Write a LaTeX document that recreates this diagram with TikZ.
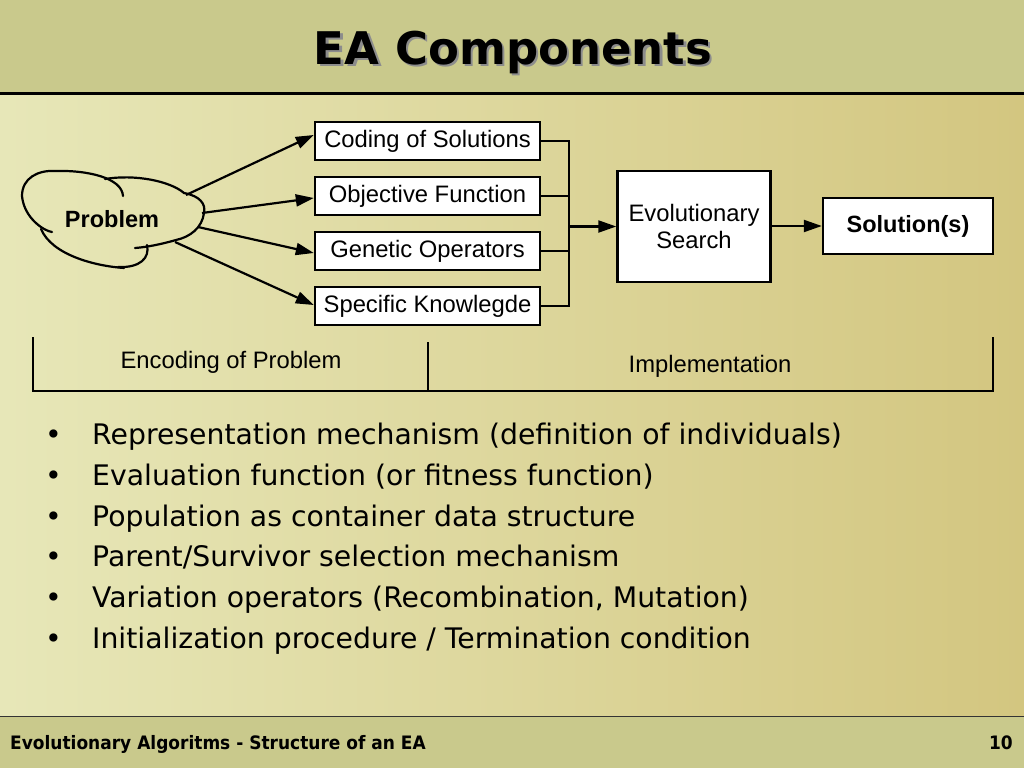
\documentclass[tikz,border=0pt]{standalone}
\usepackage{fontspec}
\setmainfont{Liberation Sans}
\newfontfamily\dejavu{DejaVu Sans}
\newfontfamily\footfont[FakeStretch=0.92]{DejaVu Sans}
\usetikzlibrary{arrows.meta}
\definecolor{hdr}{RGB}{201,201,140}
\definecolor{bgl}{RGB}{231,231,184}
\definecolor{bgr}{RGB}{211,198,128}
\begin{document}
\begin{tikzpicture}[x=1pt,y=-1pt,
  box/.style={draw=black, line width=2.4pt, fill=white, inner sep=0pt,
    font=\fontsize{23.8}{27}\selectfont, align=center},
  lbl/.style={inner sep=0pt, font=\fontsize{23.8}{27}\selectfont},
  conn/.style={line width=2.2pt},
  thin/.style={line width=1.6pt},
  arr/.style={line width=2.2pt, -{Triangle[length=18pt,width=12pt]}},
  bul/.style={anchor=base west, inner sep=0pt, font=\dejavu\fontsize{28.3}{34}\selectfont},
  cloudline/.style={line width=2.2pt, line cap=round}]
\useasboundingbox (0,0) rectangle (1024,768);
% background
\shade[left color=bgl, right color=bgr] (0,94) rectangle (1024,716);
\fill[hdr] (0,0) rectangle (1024,93);
\fill[hdr] (0,716) rectangle (1024,768);
\draw[line width=3pt] (0,93.5) -- (1024,93.5);
\draw[line width=1.5pt, black!80] (0,716.5) -- (1024,716.5);
% title
\node[anchor=base, inner sep=0pt, text=black!45, font=\dejavu\bfseries\fontsize{45}{50}\selectfont] (tshadow) at (515.5,66.5) {EA Components};
\node[anchor=base, inner sep=0pt, font=\dejavu\bfseries\fontsize{45}{50}\selectfont] (title) at (513,64) {EA Components};
% cloud
\draw[cloudline] (52,232) .. controls (44,231) and (24,218) .. (22,196)
  .. controls (22,178) and (38,170) .. (55,171)
  .. controls (88,170) and (122,178) .. (123,196);
\draw[cloudline] (105,179) .. controls (135,174) and (170,181) .. (184,193)
  .. controls (200,196) and (206,204) .. (204,213)
  .. controls (202,228) and (190,237) .. (176,240)
  .. controls (162,244) and (148,247) .. (135,248);
\draw[cloudline] (147,245) .. controls (150,258) and (140,268) .. (118,267);
\draw[cloudline] (124,268) .. controls (95,266) and (52,255) .. (41,229);
\node[lbl, font=\bfseries\fontsize{23.5}{27}\selectfont] (prob) at (112,219) {Problem};
\coordinate (c1) at (186,195);
\coordinate (c2) at (202,213);
\coordinate (c3) at (198,227);
\coordinate (c4) at (175,242);
% boxes
\node[box, minimum width=225pt, minimum height=38pt] (b1) at (427.5,141) {Coding of Solutions};
\node[box, minimum width=225pt, minimum height=38pt] (b2) at (427.5,196) {Objective Function};
\node[box, minimum width=225pt, minimum height=38pt] (b3) at (427.5,251) {Genetic Operators};
\node[box, minimum width=225pt, minimum height=38pt] (b4) at (427.5,306) {Specific Knowlegde};
\draw[arr] (c1) -- ([yshift=6pt]b1.west);
\draw[arr] (c2) -- ([yshift=-2pt]b2.west);
\draw[arr] (c3) -- ([yshift=-2pt]b3.west);
\draw[arr] (c4) -- ([yshift=1pt]b4.west);
% join
\coordinate (jn) at (569,226.5);
\draw[conn] (b1.east) -| (jn);
\draw[conn] (b4.east) -| (jn);
\draw[conn] (b2.east) -- (b2.east -| jn);
\draw[conn] (b3.east) -- (b3.east -| jn);
\node[box, minimum width=153pt, minimum height=111pt] (es) at (694,226.5) {Evolutionary\\Search};
\node[box, minimum width=170pt, minimum height=56pt, font=\bfseries\fontsize{23.5}{27}\selectfont] (sol) at (908,226) {Solution(s)};
\draw[arr] (jn) -- (es.west);
\draw[arr] (es.east |- sol.west) -- (sol.west);
% lower brackets
\coordinate (bl) at (33,337);
\coordinate (bm) at (428,342);
\coordinate (br) at (993,337);
\draw[thin] (bl) -- (33,391) -- (993,391) -- (br);
\draw[thin] (bm) -- (428,391);
\node[lbl] (enc) at (231,362) {Encoding of Problem};
\node[lbl] (impl) at (710,366) {Implementation};
% bullets
\foreach \yy/\tx [count=\i] in {444/{Representation mechanism (definition of individuals)},
  485/{Evaluation function (or fitness function)},
  526/{Population as container data structure},
  566/{Parent/Survivor selection mechanism},
  607/{Variation operators (Recombination, Mutation)},
  648/{Initialization procedure / Termination condition}}{
  \node[bul] (dot\i) at (45,\yy) {•};
  \node[bul] (item\i) at (92,\yy) {\tx};
}
% footer
\node[anchor=base west, inner sep=0pt, font=\footfont\bfseries\fontsize{18.5}{22}\selectfont] (foot) at (10,749.5) {Evolutionary Algoritms - Structure of an EA};
\node[anchor=base east, inner sep=0pt, font=\footfont\bfseries\fontsize{18.5}{22}\selectfont] (pnum) at (1013,749.5) {10};
\end{tikzpicture}
\end{document}
